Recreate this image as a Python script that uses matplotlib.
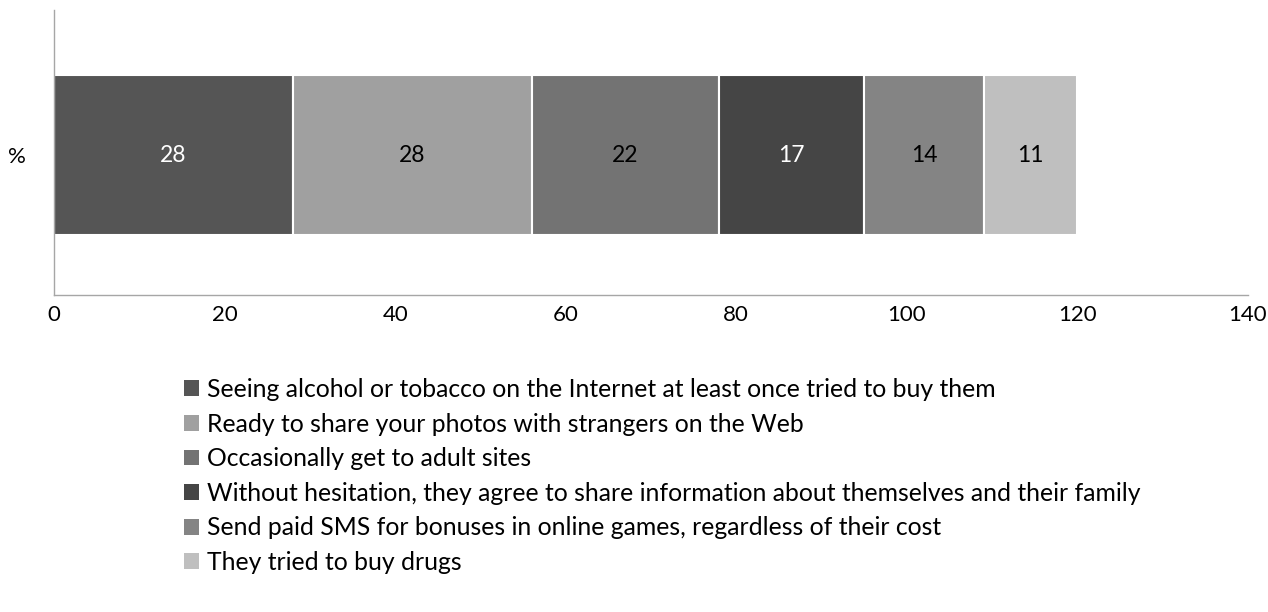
import matplotlib.pyplot as plt
from matplotlib.patches import Patch

plt.rcParams['font.family'] = ['Lato', 'DejaVu Sans']

categories = [
    "Seeing alcohol or tobacco on the Internet at least once tried to buy them",
    "Ready to share your photos with strangers on the Web",
    "Occasionally get to adult sites",
    "Without hesitation, they agree to share information about themselves and their family",
    "Send paid SMS for bonuses in online games, regardless of their cost",
    "They tried to buy drugs",
]
values = [28, 28, 22, 17, 14, 11]
colors = ['#555555', '#a0a0a0', '#737373', '#454545', '#848484', '#bfbfbf']
label_colors = ['white', 'black', 'black', 'white', 'black', 'black']
xticks = [0, 20, 40, 60, 80, 100, 120, 140]

fig = plt.figure(figsize=(12.68, 6.12), dpi=100)
ax = fig.add_axes([54 / 1268, 1 - 295 / 612, (1248 - 54) / 1268, 285 / 612])

left = 0
for val, col, tcol in zip(values, colors, label_colors):
    ax.barh(0, val, left=left, height=0.56, color=col, edgecolor='white', linewidth=1.5)
    ax.text(left + val / 2, 0, str(val), ha='center', va='center',
            color=tcol, fontsize=16.5)
    left += val

ax.set_xlim(0, 140)
ax.set_ylim(-0.491, 0.509)
ax.set_xticks(xticks)
ax.set_xticklabels([str(t) for t in xticks], fontsize=16)
ax.tick_params(axis='x', length=0, pad=7)
ax.set_yticks([0])
ax.set_yticklabels(['%'], fontsize=16)
ax.tick_params(axis='y', length=0, pad=20)

for side in ['top', 'right']:
    ax.spines[side].set_visible(False)
for side in ['left', 'bottom']:
    ax.spines[side].set_color('#a6a6a6')
    ax.spines[side].set_linewidth(1)

handles = [Patch(facecolor=c, edgecolor='none') for c in colors]
fig.legend(handles, categories, loc='upper left', bbox_to_anchor=(174 / 1268, 1 - 368 / 612),
           frameon=False, fontsize=17.8, handlelength=0.6, handleheight=0.6,
           handletextpad=0.35, labelspacing=0.47, borderaxespad=0)

fig.savefig('out.png', dpi=100)
